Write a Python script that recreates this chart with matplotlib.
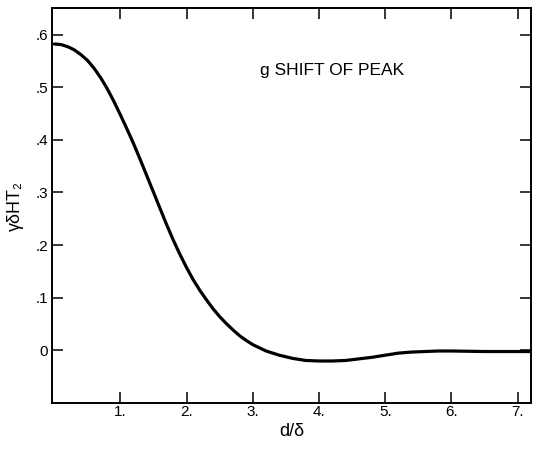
import matplotlib
matplotlib.use("Agg")
import matplotlib.pyplot as plt

plt.rcParams['font.family'] = ['Liberation Sans', 'DejaVu Sans']

# g shift of peak vs d/delta
d_over_delta = [0.0, 0.1, 0.2, 0.3, 0.4, 0.5, 0.6, 0.7, 0.8, 0.9,
                1.0, 1.1, 1.2, 1.3, 1.4, 1.5, 1.6, 1.7, 1.8, 1.9,
                2.0, 2.1, 2.2, 2.3, 2.4, 2.5, 2.6, 2.7, 2.8, 2.9,
                3.0, 3.2, 3.4, 3.6, 3.8, 4.0, 4.2, 4.4, 4.6, 4.8,
                5.0, 5.2, 5.4, 5.6, 5.8, 6.0, 6.5, 7.0, 7.2]
shift = [0.582, 0.581, 0.577, 0.571, 0.562, 0.551, 0.536, 0.518, 0.497, 0.473,
         0.447, 0.420, 0.392, 0.362, 0.331, 0.300, 0.269, 0.238, 0.209, 0.182,
         0.157, 0.134, 0.114, 0.096, 0.079, 0.064, 0.051, 0.039, 0.028, 0.019,
         0.011, -0.001, -0.009, -0.015, -0.019, -0.020, -0.020, -0.019, -0.016, -0.013,
         -0.009, -0.005, -0.003, -0.002, -0.001, -0.001, -0.002, -0.002, -0.002]

xticks = [1, 2, 3, 4, 5, 6, 7]
xticklabels = ['1.', '2.', '3.', '4.', '5.', '6.', '7.']
yticks = [0, 0.1, 0.2, 0.3, 0.4, 0.5, 0.6]
yticklabels = ['0', '.1', '.2', '.3', '.4', '.5', '.6']

fig = plt.figure(figsize=(5.34, 4.55), dpi=100)
ax = fig.add_axes([0.098, 0.114, 0.896, 0.868])

ax.plot(d_over_delta, shift, color='black', lw=2.3, solid_capstyle='round',
        solid_joinstyle='round')

ax.set_xlim(-0.03, 7.2)
ax.set_ylim(-0.1, 0.65)

ax.set_xticks(xticks)
ax.set_xticklabels(xticklabels, fontsize=11)
ax.set_yticks(yticks)
ax.set_yticklabels(yticklabels, fontsize=11)
ax.tick_params(direction='in', length=8, width=1.1, top=True, right=True,
               labelright=False, labeltop=False)
ax.tick_params(axis='x', pad=1.5)
ax.tick_params(axis='y', pad=3)

for s in ax.spines.values():
    s.set_linewidth(1.4)

ax.set_xlabel('d/δ', fontsize=13, labelpad=3)
ax.set_ylabel('γδHT₂', fontsize=13)
ax.yaxis.set_label_coords(-0.06, 0.5)

ax.text(4.2, 0.532, 'g SHIFT OF PEAK', fontsize=12.5, ha='center', va='center')

fig.savefig('out.png', dpi=100)
